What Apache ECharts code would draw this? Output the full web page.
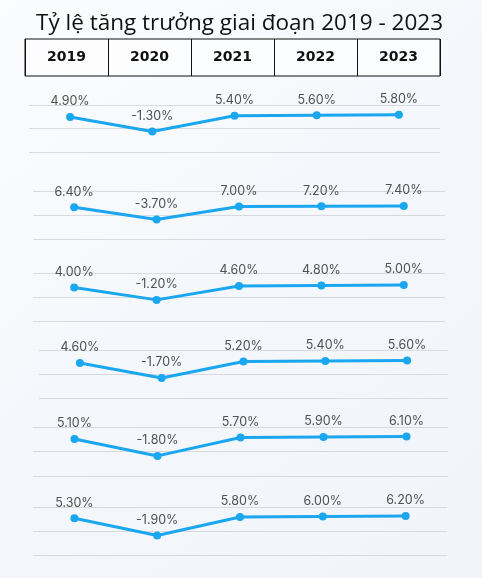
<!DOCTYPE html>
<html>
<head>
<meta charset="utf-8">
<script src="https://cdn.jsdelivr.net/npm/echarts@6/dist/echarts.min.js"></script>
<style>
html,body{margin:0;padding:0;}
#c{width:482px;height:578px;}
</style>
</head>
<body>
<div id="c"></div>
<script>
// ---- data ----
var titleText = 'Tỷ lệ tăng trưởng giai đoạn 2019 - 2023';
var years = ['2019', '2020', '2021', '2022', '2023'];
var series1 = [4.9, -1.3, 5.4, 5.6, 5.8];
var series2 = [6.4, -3.7, 7.0, 7.2, 7.4];
var series3 = [4.0, -1.2, 4.6, 4.8, 5.0];
var series4 = [4.6, -1.7, 5.2, 5.4, 5.6];
var series5 = [5.1, -1.8, 5.7, 5.9, 6.1];
var series6 = [5.3, -1.9, 5.8, 6.0, 6.2];
var axisMin = [-10, -20, -10, -10, -10, -10];
var axisMax = [10, 20, 10, 10, 10, 10];
var axisStep = [10, 20, 10, 10, 10, 10];

var allSeries = [series1, series2, series3, series4, series5, series6];

// ---- layout ----
var layouts = [
  {left: 29, right: 42, top: 105, height: 47},
  {left: 33, right: 37, top: 191, height: 48},
  {left: 33, right: 37, top: 273, height: 48},
  {left: 39, right: 34, top: 350, height: 48},
  {left: 33, right: 34, top: 427, height: 49},
  {left: 33, right: 35, top: 507, height: 48}
];

var chart = echarts.init(document.getElementById('c'), null, {renderer: 'canvas'});

var grids = [], xAxes = [], yAxes = [], seriesList = [];

// header table grid
grids.push({left: 25, width: 415, top: 39, height: 37, show: true,
  borderColor: '#111', borderWidth: 1, backgroundColor: 'rgba(255,255,255,0.6)'});
xAxes.push({type: 'category', gridIndex: 0, data: years, boundaryGap: true,
  axisLine: {show: false}, axisTick: {show: false},
  splitLine: {show: true, interval: 0, lineStyle: {color: '#111', width: 1}},
  axisLabel: {show: true, interval: 0, margin: -26, verticalAlign: 'top',
    fontFamily: 'DejaVu Sans', fontWeight: 'bold', fontSize: 14, color: '#111'}});
yAxes.push({type: 'value', gridIndex: 0, show: false});

layouts.forEach(function (L, i) {
  var gi = i + 1;
  grids.push({left: L.left, right: L.right, top: L.top, height: L.height});
  xAxes.push({type: 'category', gridIndex: gi, data: years, boundaryGap: true, show: false});
  yAxes.push({type: 'value', gridIndex: gi, min: axisMin[i], max: axisMax[i], interval: axisStep[i],
    axisLine: {show: false}, axisTick: {show: false}, axisLabel: {show: false},
    splitLine: {show: true, lineStyle: {color: '#d8dadd', width: 1.2}}});
  seriesList.push({
    type: 'line', xAxisIndex: gi, yAxisIndex: gi, data: allSeries[i],
    symbol: 'circle', symbolSize: 8, showSymbol: true,
    lineStyle: {color: '#1ba6f0', width: 3},
    itemStyle: {color: '#1ba6f0'},
    label: {show: true, position: 'top', distance: 5,
      fontFamily: 'Inter', fontSize: 12.5, color: '#505050',
      formatter: function (p) { return p.value.toFixed(2) + '%'; }},
    animation: false
  });
});

chart.setOption({
  animation: false,
  backgroundColor: {type: 'linear', x: 0, y: 0, x2: 1, y2: 1,
    colorStops: [{offset: 0, color: '#fbfcfe'}, {offset: 0.5, color: '#f4f7fb'}, {offset: 1, color: '#f1f5fa'}]},
  title: {text: titleText, left: 31, top: 7,
    textStyle: {fontFamily: 'Open Sans', fontWeight: 'normal', fontSize: 22.5, color: '#111'}},
  grid: grids,
  xAxis: xAxes,
  yAxis: yAxes,
  series: seriesList
});
</script>
</body>
</html>
